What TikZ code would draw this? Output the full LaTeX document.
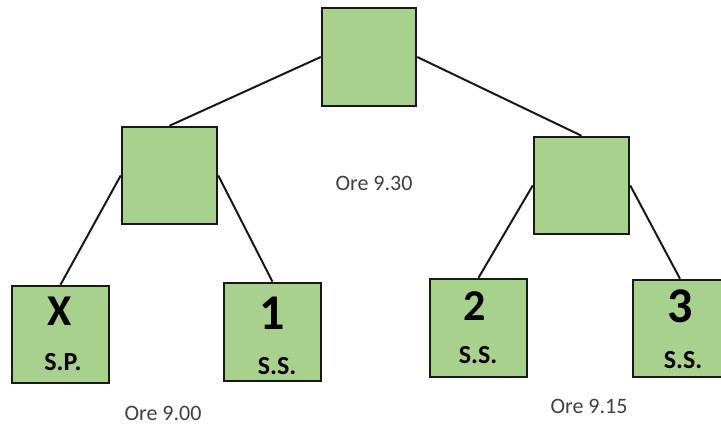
\documentclass[tikz,border=0pt]{standalone}
\usepackage{fontspec}
\setmainfont{Carlito}
\definecolor{boxgreen}{HTML}{A9D18E}
\definecolor{oregray}{HTML}{404040}
\tikzset{
  gbox/.style={draw=black!90, line width=2.5pt, fill=boxgreen, inner sep=0pt},
  edge/.style={draw=black!90, line width=2pt},
  bigtxt/.style={font=\bfseries\fontsize{44}{44}\selectfont, inner sep=0pt, anchor=center},
  hugetxt/.style={font=\bfseries\fontsize{50}{50}\selectfont, inner sep=0pt, anchor=center},
  smtxt/.style={font=\bfseries\fontsize{26}{26}\selectfont, inner sep=0pt, anchor=center},
  oretxt/.style={font=\fontsize{22}{22}\selectfont, text=oregray, inner sep=0pt, anchor=center}
}
\begin{document}
\begin{tikzpicture}[x=1pt,y=-1pt]
\useasboundingbox (0,0) rectangle (721,430);
\clip (0,0) rectangle (721,430);
\fill[white] (0,0) rectangle (721,430);
% boxes
\node[gbox, minimum width=94pt, minimum height=98pt] (top) at (369,57) {};
\node[gbox, minimum width=95pt, minimum height=97pt] (ml) at (169.5,175.5) {};
\node[gbox, minimum width=95pt, minimum height=97pt] (mr) at (581.5,185.5) {};
\node[gbox, minimum width=97pt, minimum height=97pt] (lx) at (60.5,334.5) {};
\node[gbox, minimum width=97pt, minimum height=98pt] (l1) at (272.5,332) {};
\node[gbox, minimum width=97pt, minimum height=98pt] (l2) at (478.5,328) {};
\node[gbox, minimum width=94pt, minimum height=97pt] (l3) at (680,328.5) {};
% connectors
\draw[edge] (top.west) -- (ml.north);
\draw[edge] (top.east) -- (mr.north);
\draw[edge] (ml.west) -- (lx.north);
\draw[edge] (ml.east) -- (l1.north);
\draw[edge] (mr.west) -- (l2.north);
\draw[edge] (mr.east) -- (l3.north);
% texts in leaves
\node[bigtxt] (tx) at (60,311) {X};
\node[smtxt] (tsp) at (63,362) {S.P.};
\node[hugetxt] (t1) at (272,313) {1};
\node[smtxt] (tss1) at (277,366) {S.S.};
\node[bigtxt] (t2) at (475,306) {2};
\node[smtxt] (tss2) at (478,355) {S.S.};
\node[hugetxt] (t3) at (680,306) {3};
\node[smtxt] (tss3) at (683,360) {S.S.};
% times
\node[oretxt] (o930) at (374,183) {Ore 9.30};
\node[oretxt] (o900) at (163,413) {Ore 9.00};
\node[oretxt] (o915) at (589,406) {Ore 9.15};
\end{tikzpicture}
\end{document}
